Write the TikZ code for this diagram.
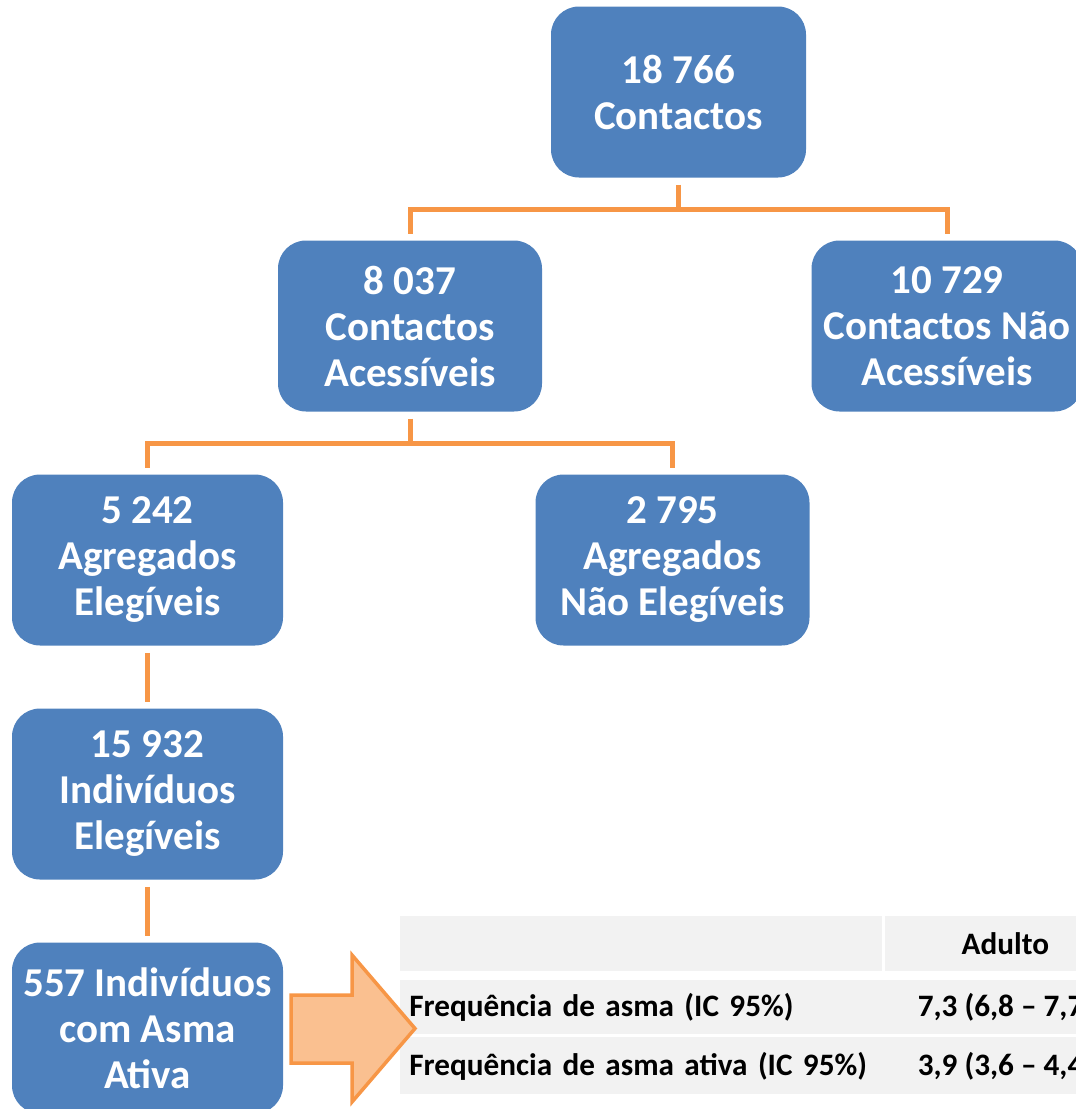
\documentclass[tikz,border=0pt]{standalone}
\usepackage{fontspec}
\setmainfont{Carlito}

\definecolor{boxblue}{HTML}{4F81BD}
\definecolor{lineorange}{HTML}{F79646}
\definecolor{arrowfill}{HTML}{FAC090}
\definecolor{cellgray}{HTML}{F2F2F2}

\begin{document}
\begin{tikzpicture}[x=0.5pt,y=-0.5pt, level distance=117pt,
    edge from parent path={([yshift=-3.5pt]\tikzparentnode.south) -- ++(0,-12.5pt) -| ([yshift=3pt]\tikzchildnode.north)}]
        \tikzstyle{box}=[rectangle, rounded corners=14pt, fill=boxblue, text=white, align=center,
          minimum width=135.5pt, minimum height=85.5pt, inner sep=0pt,
          font=\fontsize{20.5}{23}\selectfont\bfseries]
        \tikzstyle{cell}=[rectangle, fill=cellgray, inner sep=0pt, anchor=north west,
          font=\fontsize{15.6}{19}\selectfont\bfseries]
        \tikzstyle{level 1}=[sibling distance=268.5pt]
        \tikzstyle{level 2}=[sibling distance=262.5pt]
        \tikzstyle{edge from parent}=[draw=lineorange, line width=2.5pt]
        \clip (0,0) rectangle (1076,1109);
        \node[box, minimum width=127.5pt] (contactos) at (678.5,92) {18 766\\Contactos}
          child {node[box, minimum width=132pt] (acessiveis) {8 037\\Contactos\\Acessíveis}
            child {node[box] (elegiveis) {5 242\\Agregados\\Elegíveis}
              child {node[box] (individuos) {15 932\\Indivíduos\\Elegíveis}
                child {node[box] (asma) {557 Indivíduos\\com Asma\\Ativa}}
              }
            }
            child {node[box, minimum width=137pt] (naoelegiveis) {2 795\\Agregados\\Não Elegíveis}}
          }
          child {node[box] (naoacessiveis) {10 729\\Contactos Não\\Acessíveis}};
        % table
        \node[cell, minimum width=241pt, minimum height=27.5pt] (head1) at (400,916) {};
        \node[cell, minimum width=120pt, minimum height=27.5pt] (head2) at (885,916) {Adulto};
        \node[cell, minimum width=241pt, minimum height=27pt, text width=236.5pt, inner xsep=4.5pt, align=left] (freq1) at (400,980) {Frequência de asma (IC 95\%)};
        \node[cell, minimum width=120pt, minimum height=27pt] (freq2) at (885,980) {7,3 (6,8 – 7,7)};
        \node[cell, minimum width=241pt, minimum height=28.5pt, text width=236.5pt, inner xsep=4.5pt, align=left] (ativa1) at (400,1037) {Frequência de asma ativa (IC 95\%)};
        \node[cell, minimum width=120pt, minimum height=28.5pt] (ativa2) at (885,1037) {3,9 (3,6 – 4,4)};
        % arrow
        \draw[fill=arrowfill, draw=lineorange, line width=1.75pt]
          (291,995) -- (352,995) -- (352,955) -- (415,1028.5) -- (352,1102) -- (352,1063) -- (291,1063) -- cycle;
\end{tikzpicture}
\end{document}
